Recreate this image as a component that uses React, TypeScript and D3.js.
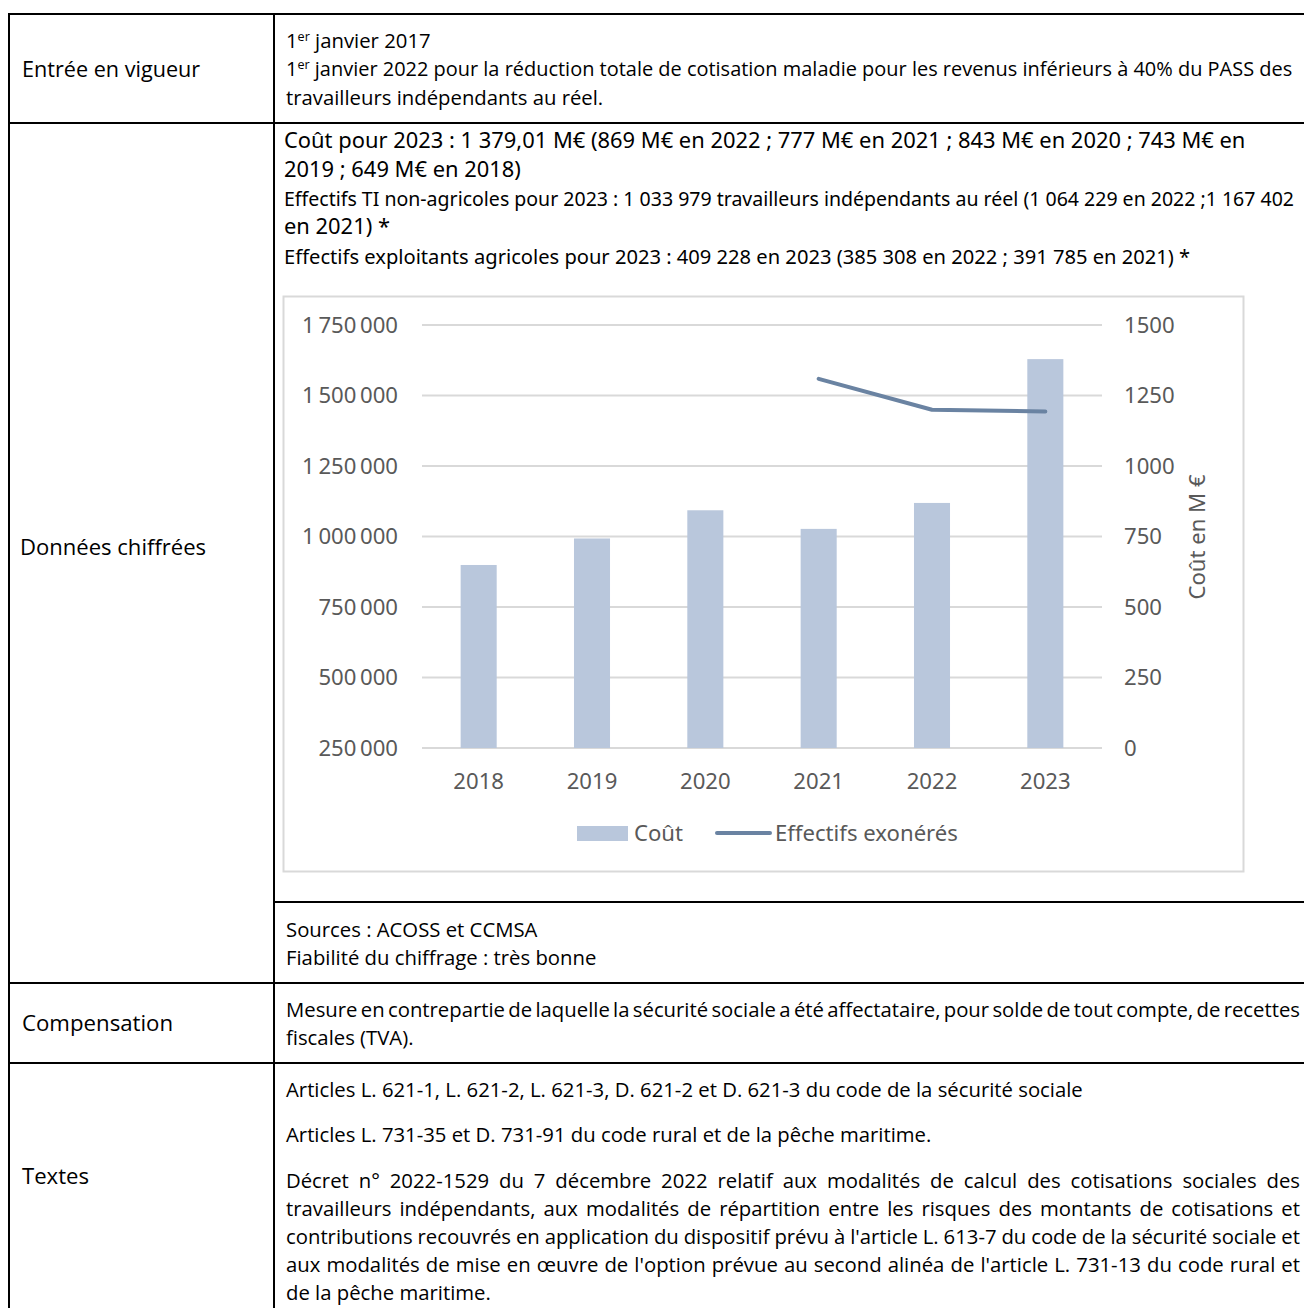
import React, { useMemo } from 'react';
import * as d3 from 'd3';

// ---------- chart data ----------
const years = ['2018', '2019', '2020', '2021', '2022', '2023'];
const cost = [649, 743, 843, 777, 869, 1379.01]; // M€ (right axis)
const effYears = ['2021', '2022', '2023'];
const effectifs = [1559187, 1449537, 1443207]; // TI + exploitants agricoles (left axis)
const leftTicks = [250000, 500000, 750000, 1000000, 1250000, 1500000, 1750000];
const rightTicks = [0, 250, 500, 750, 1000, 1250, 1500];
const legendLabels = ['Coût', 'Effectifs exonérés'];
const rightAxisTitle = 'Coût en M €';

// ---------- table content ----------
const rowLabels = ['Entrée en vigueur', 'Données chiffrées', 'Compensation', 'Textes'];
const row1Lines = [
  '1^er janvier 2017',
  '1^er janvier 2022 pour la réduction totale de cotisation maladie pour les revenus inférieurs à 40% du PASS des',
  'travailleurs indépendants au réel.',
];
const row2Lines = [
  'Coût pour 2023 : 1\u00a0379,01 M€ (869 M€ en 2022 ; 777 M€ en 2021 ; 843 M€ en 2020 ; 743 M€ en',
  '2019 ; 649 M€ en 2018)',
  'Effectifs TI non-agricoles pour 2023 : 1\u00a0033\u00a0979 travailleurs indépendants au réel (1\u00a0064\u00a0229 en 2022 ;1\u00a0167\u00a0402',
  'en 2021) *',
  'Effectifs exploitants agricoles pour 2023 : 409\u00a0228 en 2023 (385\u00a0308 en 2022 ; 391\u00a0785 en 2021) *',
];
const sourceLines = ['Sources : ACOSS et CCMSA', 'Fiabilité du chiffrage : très bonne'];
const compLines = [
  'Mesure en contrepartie de laquelle la sécurité sociale a été affectataire, pour solde de tout compte, de recettes',
  'fiscales (TVA).',
];
const textLines = [
  'Articles L. 621-1, L. 621-2, L. 621-3, D. 621-2 et D. 621-3 du code de la sécurité sociale',
  'Articles L. 731-35 et D. 731-91 du code rural et de la pêche maritime.',
  'Décret n° 2022-1529 du 7 décembre 2022 relatif aux modalités de calcul des cotisations sociales des',
  'travailleurs indépendants, aux modalités de répartition entre les risques des montants de cotisations et',
  "contributions recouvrés en application du dispositif prévu à l'article L. 613-7 du code de la sécurité sociale et",
  "aux modalités de mise en œuvre de l'option prévue au second alinéa de l'article L. 731-13 du code rural et",
  'de la pêche maritime.',
];

const FONT_T = "'Open Sans', sans-serif";
const FONT_M = "'Noto Sans', sans-serif";
const FONT_C = "'Noto Sans', sans-serif";

let _ctx: CanvasRenderingContext2D | null = null;
function measure(text: string, family: string, size: number) {
  if (!_ctx) _ctx = document.createElement('canvas').getContext('2d');
  _ctx!.font = `${size}px ${family}`;
  return _ctx!.measureText(text.replace('^', '')).width;
}

function TLine({ x, cy, text, family, size, width, mode, fill = '#000' }: any) {
  let fs = size;
  if (mode === 'fit') {
    // "er" superscript is narrower than regular text: approximate
    const natural = measure(text, family, size) * (text.startsWith('1^er') ? 0.995 : 1);
    fs = (size * width) / natural;
  }
  const y = cy + size * 0.36;
  if (mode === 'justify') {
    const words = text.split(' ');
    const ws = words.map((w: string) => measure(w, family, size));
    const gap = (width - d3.sum(ws)) / (words.length - 1);
    let cx = x;
    return (
      <text y={y} fontFamily={family} fontSize={size} fill={fill}>
        {words.map((w: string, i: number) => {
          const el = (
            <tspan key={i} x={cx}>
              {w}
            </tspan>
          );
          cx += ws[i] + gap;
          return el;
        })}
      </text>
    );
  }
  if (text.startsWith('1^er')) {
    return (
      <text x={x} y={y} fontFamily={family} fontSize={fs} fill={fill}>
        <tspan>1</tspan>
        <tspan dy={-size * 0.38} fontSize={size * 0.62}>er</tspan>
        <tspan dy={size * 0.38}>{text.slice(4)}</tspan>
      </text>
    );
  }
  return (
    <text x={x} y={y} fontFamily={family} fontSize={fs} fill={fill}>
      {text}
    </text>
  );
}

const fmtLeft = (v: number) => d3.format(',')(v).replace(/,/g, '\u2009');

export default function App() {
  const sizes = useMemo(() => {
    const sT = (100 * 646) / measure(textLines[1], FONT_T, 100);
    const sM = (100 * 962) / measure(row2Lines[0], FONT_M, 100);
    const sC = (100 * 183) / measure(legendLabels[1], FONT_C, 100);
    return { sT, sM, sC };
  }, []);
  const { sT, sM, sC } = sizes;

  // chart scales
  const x = d3.scaleBand<string>().domain(years).range([422, 1102]).paddingInner(0.682).paddingOuter(0.341);
  const yL = d3.scaleLinear().domain([250000, 1750000]).range([748, 325]);
  const yR = d3.scaleLinear().domain([0, 1500]).range([748, 325]);
  const line = d3
    .line<number>()
    .x((_, i) => (x(effYears[i]) as number) + x.bandwidth() / 2)
    .y((d) => yL(d));

  const chartText = '#595959';
  const grid = '#d9d9d9';
  const barColor = '#b9c7dc';
  const lineColor = '#6a83a2';

  return (
    <svg width={1304} height={1308} style={{ position: 'absolute', left: 0, top: 0, background: '#fff' }}>
      <rect x={0} y={0} width={1304} height={1308} fill="#fff" />

      {/* table borders */}
      <g stroke="#000" strokeWidth={2}>
        <line x1={8} x2={1304} y1={14} y2={14} />
        <line x1={9} x2={9} y1={13} y2={1308} />
        <line x1={274} x2={274} y1={13} y2={1308} />
        <line x1={8} x2={1304} y1={123} y2={123} />
        <line x1={274} x2={1304} y1={902} y2={902} />
        <line x1={8} x2={1304} y1={983} y2={983} />
        <line x1={8} x2={1304} y1={1063} y2={1063} />
      </g>

      {/* row labels */}
      <TLine x={22} cy={70} text={rowLabels[0]} family={FONT_T} size={sT} width={178} mode="fit" />
      <TLine x={20} cy={548} text={rowLabels[1]} family={FONT_T} size={sT} width={186} mode="fit" />
      <TLine x={22} cy={1024} text={rowLabels[2]} family={FONT_T} size={sT} width={151} mode="fit" />
      <TLine x={22} cy={1177} text={rowLabels[3]} family={FONT_T} size={sT} width={67} mode="fit" />

      {/* row 1 */}
      <TLine x={286} cy={41} text={row1Lines[0]} family={FONT_T} size={sT} />
      <TLine x={286} cy={69} text={row1Lines[1]} family={FONT_T} size={sT} width={1008} mode="fit" />
      <TLine x={286} cy={98} text={row1Lines[2]} family={FONT_T} size={sT} />

      {/* row 2 */}
      <TLine x={284} cy={140} text={row2Lines[0]} family={FONT_M} size={sM} />
      <TLine x={284} cy={169} text={row2Lines[1]} family={FONT_M} size={sM} />
      <TLine x={284} cy={198} text={row2Lines[2]} family={FONT_M} size={sM} width={1010} mode="fit" />
      <TLine x={284} cy={226} text={row2Lines[3]} family={FONT_M} size={sM} />
      <TLine x={284} cy={256} text={row2Lines[4]} family={FONT_M} size={sM} width={906} mode="fit" />

      {/* chart frame */}
      <rect x={283.5} y={296.5} width={960} height={575} fill="#fff" stroke={grid} strokeWidth={2} />

      {/* gridlines */}
      <g stroke={grid} strokeWidth={2}>
        {rightTicks.map((t) => (
          <line key={t} x1={422} x2={1102} y1={yR(t)} y2={yR(t)} />
        ))}
      </g>

      {/* bars */}
      <g fill={barColor}>
        {cost.map((c, i) => (
          <rect key={years[i]} x={x(years[i])} width={x.bandwidth()} y={yR(c)} height={yR(0) - yR(c)} />
        ))}
      </g>

      {/* line */}
      <path d={line(effectifs) as string} fill="none" stroke={lineColor} strokeWidth={4} strokeLinecap="round" strokeLinejoin="round" />

      {/* left axis labels */}
      <g fontFamily={FONT_C} fontSize={sC} fill={chartText} textAnchor="end">
        {leftTicks.map((t) => (
          <text key={t} x={398} y={yL(t) + sC * 0.36}>
            {fmtLeft(t)}
          </text>
        ))}
      </g>
      {/* right axis labels */}
      <g fontFamily={FONT_C} fontSize={sC} fill={chartText} textAnchor="start">
        {rightTicks.map((t) => (
          <text key={t} x={1124} y={yR(t) + sC * 0.36}>
            {t}
          </text>
        ))}
      </g>
      {/* x labels */}
      <g fontFamily={FONT_C} fontSize={sC} fill={chartText} textAnchor="middle">
        {years.map((yv) => (
          <text key={yv} x={(x(yv) as number) + x.bandwidth() / 2} y={781 + sC * 0.36}>
            {yv}
          </text>
        ))}
      </g>
      {/* right axis title */}
      <text
        transform={`translate(${1197},${537}) rotate(-90)`}
        textAnchor="middle"
        y={sC * 0.36}
        fontFamily={FONT_C}
        fontSize={sC}
        fill={chartText}
      >
        {rightAxisTitle}
      </text>

      {/* legend */}
      <rect x={577} y={826} width={51} height={15} fill={barColor} />
      <text x={634} y={833 + sC * 0.36} fontFamily={FONT_C} fontSize={sC} fill={chartText}>
        {legendLabels[0]}
      </text>
      <line x1={717} x2={770} y1={833} y2={833} stroke={lineColor} strokeWidth={4} strokeLinecap="round" />
      <text x={775} y={833 + sC * 0.36} fontFamily={FONT_C} fontSize={sC} fill={chartText}>
        {legendLabels[1]}
      </text>

      {/* sources */}
      <TLine x={286} cy={930} text={sourceLines[0]} family={FONT_T} size={sT} />
      <TLine x={286} cy={958} text={sourceLines[1]} family={FONT_T} size={sT} />

      {/* compensation */}
      <TLine x={286} cy={1010} text={compLines[0]} family={FONT_T} size={sT} width={1014} mode="justify" />
      <TLine x={286} cy={1038} text={compLines[1]} family={FONT_T} size={sT} />

      {/* textes */}
      <TLine x={286} cy={1090} text={textLines[0]} family={FONT_T} size={sT} />
      <TLine x={286} cy={1135} text={textLines[1]} family={FONT_T} size={sT} />
      <TLine x={286} cy={1181} text={textLines[2]} family={FONT_T} size={sT} width={1014} mode="justify" />
      <TLine x={286} cy={1209} text={textLines[3]} family={FONT_T} size={sT} width={1014} mode="justify" />
      <TLine x={286} cy={1237} text={textLines[4]} family={FONT_T} size={sT} width={1014} mode="justify" />
      <TLine x={286} cy={1265} text={textLines[5]} family={FONT_T} size={sT} width={1014} mode="justify" />
      <TLine x={286} cy={1293} text={textLines[6]} family={FONT_T} size={sT} />
    </svg>
  );
}
